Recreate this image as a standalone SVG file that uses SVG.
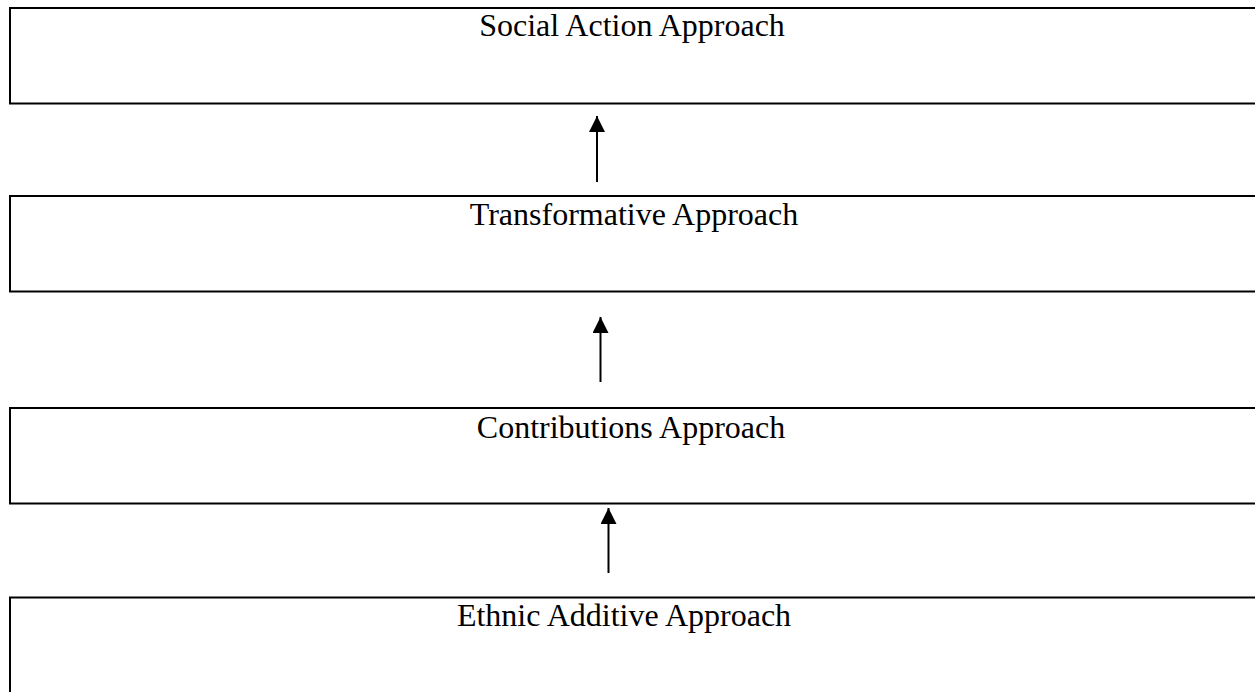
<svg xmlns="http://www.w3.org/2000/svg" width="1255" height="692" viewBox="0 0 1255 692">
  <style>
    .box { fill: #ffffff; stroke: #000000; stroke-width: 2; }
    .label { font-family: "Liberation Serif", "Times New Roman", serif; font-size: 32px; fill: #000000; text-anchor: middle; }
    .link { stroke: #000000; stroke-width: 2; fill: none; marker-end: url(#head); }
  </style>
  <defs>
    <marker id="head" viewBox="0 0 16 16" refX="16" refY="8" markerWidth="16" markerHeight="16" markerUnits="userSpaceOnUse" orient="auto">
      <path d="M0,0 L16,8 L0,16 Z" fill="#000000"/>
    </marker>
  </defs>
  <rect width="1255" height="692" fill="#ffffff"/>

  <g id="social-action">
    <rect class="box" x="10" y="8" width="1260" height="95.5"/>
    <text class="label" x="632" y="36">Social Action Approach</text>
  </g>
  <g id="transformative">
    <rect class="box" x="10" y="196" width="1260" height="95.5"/>
    <text class="label" x="634" y="225">Transformative Approach</text>
  </g>
  <g id="contributions">
    <rect class="box" x="10" y="408" width="1260" height="95.5"/>
    <text class="label" x="631" y="438">Contributions Approach</text>
  </g>
  <g id="ethnic-additive">
    <rect class="box" x="10" y="597.5" width="1260" height="110"/>
    <text class="label" x="624" y="626">Ethnic Additive Approach</text>
  </g>

  <g id="connectors">
    <line class="link" x1="597" y1="182" x2="597" y2="116"/>
    <line class="link" x1="600.5" y1="382" x2="600.5" y2="317"/>
    <line class="link" x1="608.5" y1="573" x2="608.5" y2="508"/>
  </g>
</svg>
